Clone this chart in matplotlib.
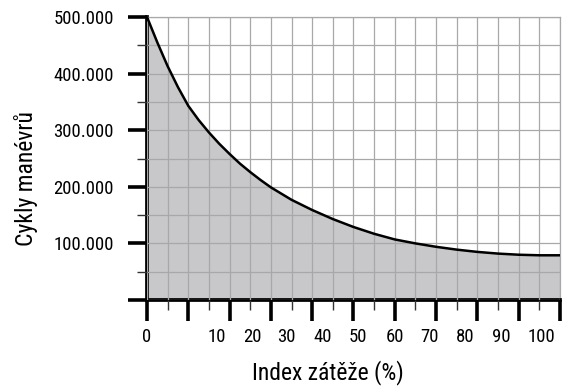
import matplotlib.pyplot as plt
from matplotlib.ticker import FuncFormatter

# load index (%) and maneuver cycles
load_pct = [0, 2.5, 5, 7.5, 10, 12.5, 15, 17.5, 20, 22.5, 25, 27.5, 30,
            35, 40, 45, 50, 55, 60, 65, 70, 75, 80, 85, 90, 95, 100]
cycles = [500000, 455000, 413000, 376000, 343000, 318000, 296000, 276000,
          258000, 241000, 226000, 212000, 199000, 177000, 159000, 143000,
          129000, 117000, 107000, 100000, 94000, 89000, 85000, 82000,
          80000, 79000, 79000]

# the x labels in the original do not sit on the tick marks
label_text = ["0", "10", "20", "30", "40", "50", "60", "70", "80", "90", "100"]
label_pos = [0, 16.9, 25.4, 33.8, 42.5, 51.1, 60.0, 68.3, 77.0, 85.9, 95.6]

plt.rcParams['font.family'] = ['Roboto Condensed', 'Roboto', 'DejaVu Sans']
plt.rcParams['font.size'] = 13

fig = plt.figure(figsize=(5.62, 3.87), dpi=100)
ax = fig.add_axes([0.2616, 0.2248, 0.7348, 0.7312])

ax.fill_between(load_pct, cycles, 0, color='#c8c8ca', lw=0, zorder=1)
ax.plot(load_pct, cycles, color='black', lw=1.8, zorder=3,
        solid_joinstyle='round')

ax.set_xlim(0, 100)
ax.set_ylim(0, 500000)

# grid every 5 % and every 50.000
ax.set_xticks(range(0, 101, 10))
ax.set_xticks(range(5, 100, 10), minor=True)
ax.set_yticks(range(0, 500001, 100000))
ax.set_yticks(range(50000, 500000, 100000), minor=True)
ax.grid(True, which='both', color='#a8a8aa', lw=0.9, zorder=2)
ax.set_axisbelow(False)

ax.yaxis.set_major_formatter(FuncFormatter(
    lambda v, p: '' if v == 0 else f'{int(v):,}'.replace(',', '.')))
ax.tick_params(axis='y', which='major', length=14, width=2.6, pad=10,
               labelsize=13.5)
ax.tick_params(axis='y', which='minor', length=7, width=1.0, color='#333333')

ax.tick_params(axis='x', which='major', length=15, width=2.6,
               labelbottom=False)
ax.tick_params(axis='x', which='minor', length=7, width=1.0, color='#333333')

for s in ['left', 'bottom']:
    ax.spines[s].set_linewidth(2.7)
for s in ['top', 'right']:
    ax.spines[s].set_color('#a8a8aa')
    ax.spines[s].set_linewidth(0.9)

sec = ax.secondary_xaxis('bottom')
sec.spines['bottom'].set_visible(False)
sec.set_xticks(label_pos, label_text)
sec.tick_params(length=0, pad=20, labelsize=13.5)
sec.set_xlabel('Index zátěže (%)', fontsize=17)
sec.xaxis.set_label_coords(0.5836, 0.07, transform=fig.transFigure)

ax.set_ylabel('Cykly manévrů', fontsize=17)
ax.yaxis.set_label_coords(-0.264, 0.428)

plt.savefig('out.png', dpi=100)
